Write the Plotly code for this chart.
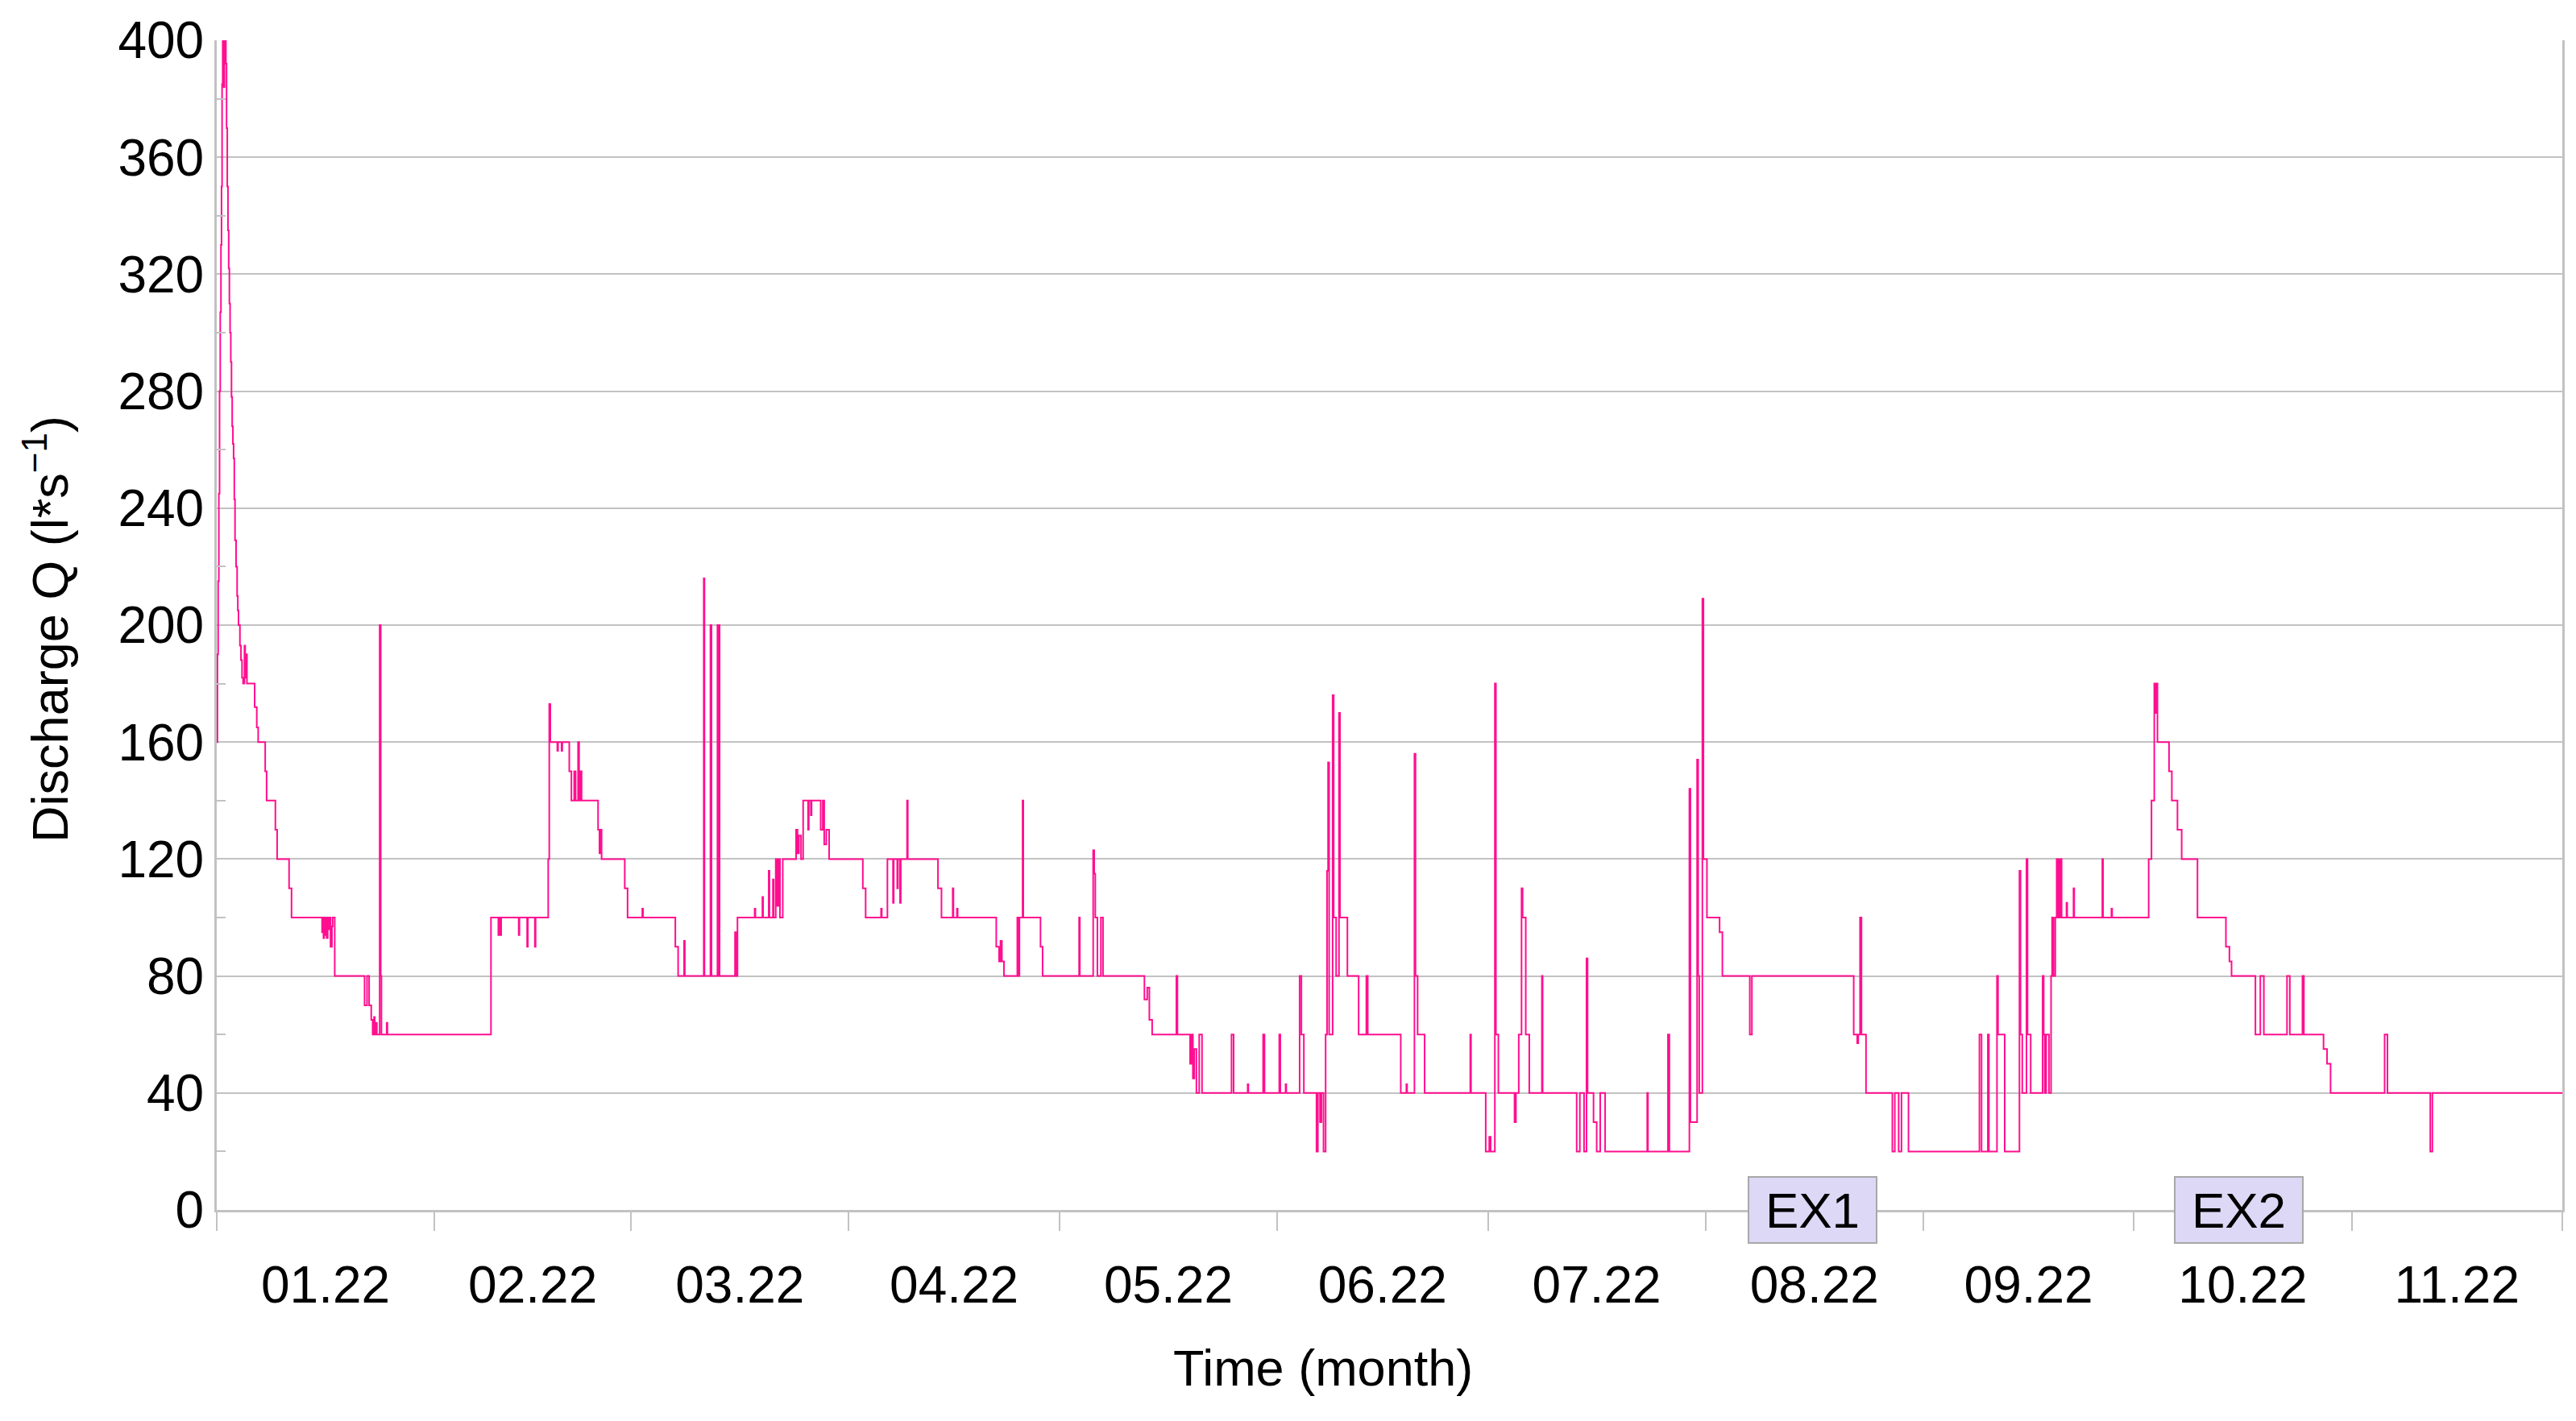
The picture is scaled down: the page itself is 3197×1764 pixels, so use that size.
import pandas as pd
import plotly.graph_objects as go

# discharge readings, (day since 2022-01-01, Q in l/s), value holds until next reading
jan = [(0.0, 160), (0.1, 190), (0.2, 215), (0.3, 245), (0.4, 280), (0.5, 307), (0.6, 330),
       (0.68, 350), (0.76, 385), (0.85, 400), (1.0, 384), (1.1, 400), (1.3, 392), (1.4, 370),
       (1.5, 350), (1.6, 335), (1.7, 322), (1.8, 310), (1.9, 300), (2.0, 290), (2.1, 278),
       (2.2, 268), (2.3, 262), (2.4, 257), (2.5, 243), (2.6, 229), (2.75, 220), (2.9, 210),
       (3.0, 205), (3.1, 200), (3.3, 193), (3.45, 188), (3.6, 182), (3.75, 180), (3.95, 193),
       (4.05, 182), (4.15, 190), (4.3, 180), (5.4, 172), (5.7, 165), (5.9, 160), (6.9, 150),
       (7.1, 140), (8.35, 130), (8.6, 120), (10.3, 110), (10.65, 100), (15.0, 95), (15.1, 100),
       (15.2, 93), (15.3, 100), (15.45, 94), (15.55, 100), (15.65, 93), (15.8, 100), (16.0, 96),
       (16.1, 100), (16.2, 90), (16.4, 97), (16.5, 100), (16.8, 80), (21.05, 70), (21.4, 80),
       (21.7, 70), (22.0, 65), (22.2, 60), (22.4, 66), (22.5, 60), (22.65, 64), (22.8, 60),
       (23.2, 200), (23.35, 80), (23.45, 60), (24.2, 64), (24.3, 60)]
feb = [(39.05, 100), (40.1, 94), (40.2, 100), (40.4, 94), (40.5, 100), (43.0, 94), (43.1, 100),
       (44.2, 90), (44.3, 100), (45.3, 90), (45.4, 100), (47.2, 120), (47.35, 173), (47.5, 160),
       (48.5, 157), (48.6, 160), (49.1, 157), (49.2, 160), (50.2, 150), (50.5, 140), (50.9, 150),
       (51.1, 140), (51.45, 160), (51.6, 140), (51.8, 150), (51.95, 140), (54.3, 130), (54.5, 122),
       (54.6, 130), (54.8, 120), (58.1, 110), (58.5, 100)]
mar = [(60.6, 103), (60.7, 100), (65.3, 90), (65.7, 80), (66.55, 92), (66.65, 80), (69.35, 216),
       (69.45, 80), (70.3, 200), (70.45, 80), (71.3, 200), (71.4, 80), (71.5, 200), (71.6, 80),
       (73.8, 95), (73.95, 80), (74.15, 100), (76.6, 103), (76.7, 100), (77.7, 107), (77.8, 100),
       (78.6, 116), (78.7, 100), (79.2, 113), (79.3, 100), (79.6, 120), (79.8, 104), (80.0, 120),
       (80.2, 100), (80.6, 120), (82.5, 130), (82.7, 122), (82.9, 128), (83.2, 120), (83.5, 140),
       (84.2, 130), (84.3, 140), (84.6, 135), (84.7, 140), (86.0, 130), (86.3, 140), (86.5, 125),
       (86.8, 130), (87.2, 120)]
apr = [(92.0, 110), (92.4, 100), (94.6, 103), (94.7, 100), (95.5, 120), (96.3, 105), (96.4, 120),
       (96.9, 110), (97.0, 120), (97.3, 105), (97.4, 120), (98.3, 140), (98.4, 120), (102.7, 110),
       (103.2, 100), (104.8, 110), (104.9, 100), (105.4, 103), (105.5, 100), (111.0, 90),
       (111.4, 85), (111.6, 92), (111.8, 85), (112.1, 80), (114.0, 100), (114.2, 80), (114.3, 100),
       (114.75, 140), (114.85, 100), (117.3, 90), (117.6, 80)]
may = [(122.8, 100), (122.9, 80), (124.8, 123), (124.95, 115), (125.1, 100), (125.4, 80),
       (125.9, 100), (126.2, 80), (132.1, 72), (132.5, 76), (132.8, 65), (133.2, 60), (136.65, 80),
       (136.8, 60), (138.6, 50), (138.8, 60), (139.0, 45), (139.2, 55), (139.5, 40), (139.9, 60),
       (140.3, 40), (144.5, 60), (144.8, 40), (146.8, 43), (146.9, 40), (149.0, 60), (149.2, 40)]
jun = [(151.3, 60), (151.45, 40), (152.2, 43), (152.3, 40), (154.2, 80), (154.45, 60), (154.8, 40),
       (156.6, 20), (156.8, 40), (157.1, 30), (157.3, 40), (157.6, 20), (157.9, 60), (158.1, 116),
       (158.25, 153), (158.4, 60), (158.9, 176), (159.05, 100), (159.4, 80), (159.8, 170),
       (159.95, 100), (161.0, 80), (162.6, 60), (163.7, 80), (163.9, 60), (168.6, 40), (169.4, 43),
       (169.5, 40), (170.55, 156), (170.7, 80), (171.0, 60), (172.0, 40), (178.5, 60), (178.6, 40),
       (180.7, 20)]
jul = [(181.2, 25), (181.4, 20), (182.0, 180), (182.15, 60), (182.5, 40), (184.8, 30), (185.0, 40),
       (185.4, 60), (185.8, 110), (185.95, 100), (186.4, 60), (186.9, 40), (188.7, 80), (188.8, 40),
       (193.65, 20), (194.1, 40), (194.7, 20), (195.05, 86), (195.2, 40), (196.05, 30), (196.5, 20),
       (197.0, 40), (197.7, 20), (203.7, 40), (203.8, 20), (206.65, 60), (206.85, 20), (209.7, 144),
       (209.85, 30), (210.8, 154), (210.95, 80), (211.1, 40), (211.55, 209), (211.7, 120),
       (212.2, 100)]
aug = [(214.0, 95), (214.4, 80), (218.3, 60), (218.6, 80), (233.1, 60), (233.6, 57), (233.75, 60),
       (234.0, 100), (234.2, 60), (234.85, 40), (238.6, 20), (238.95, 40), (239.5, 20), (239.9, 40),
       (240.9, 20)]
sep = [(251.0, 60), (251.3, 20), (252.2, 60), (252.35, 20), (253.5, 80), (253.65, 60), (254.6, 20),
       (256.7, 116), (256.85, 60), (257.1, 40), (257.7, 120), (257.85, 60), (258.3, 40), (260.0, 80),
       (260.15, 60), (260.3, 40), (260.5, 60), (260.9, 40), (261.2, 80), (261.35, 100), (261.55, 80),
       (261.8, 100), (262.0, 120), (262.1, 100), (262.3, 120), (262.4, 100), (262.6, 120),
       (262.7, 100), (263.4, 105), (263.5, 100), (264.4, 110), (264.5, 100), (268.5, 120),
       (268.6, 100), (269.8, 103), (269.9, 100)]
oct = [(275.1, 120), (275.5, 140), (275.9, 180), (276.0, 170), (276.15, 180), (276.35, 160),
       (278.0, 150), (278.4, 140), (279.2, 130), (279.8, 120), (282.05, 100), (286.1, 90),
       (286.6, 85), (286.9, 80), (290.3, 60), (291.0, 80), (291.5, 60), (294.8, 80), (295.2, 60),
       (297.0, 80), (297.2, 60), (300.0, 55), (300.5, 50), (301.0, 40)]
nov = [(308.7, 60), (309.1, 40), (315.2, 20), (315.5, 40), (334.0, 40)]

ex_labels = ["EX1", "EX2"]
ex_dates = ["2022-08-16 07:00", "2022-10-15 22:00"]

readings = jan + feb + mar + apr + may + jun + jul + aug + sep + oct + nov
days = [r[0] for r in readings]
q = [r[1] for r in readings]
t = pd.Timestamp("2022-01-01") + pd.to_timedelta(days, unit="D")

font = "Liberation Sans, Arial, sans-serif"
grey = "#c2c2c2"

fig = go.Figure()
fig.add_trace(
    go.Scatter(
        x=t,
        y=q,
        mode="lines",
        line=dict(color="#ff0f8f", width=2, shape="hv"),
        showlegend=False,
    )
)

for lab, d in zip(ex_labels, ex_dates):
    fig.add_annotation(
        x=d, y=0, xref="x", yref="y", text=lab, showarrow=False,
        font=dict(size=62, color="black", family=font),
        bgcolor="#dcd8f5", bordercolor="#a8a8a8", borderwidth=2, borderpad=0,
        width=157, height=80, yanchor="middle",
    )

fig.add_annotation(
    x=0.4717, y=-0.135, xref="paper", yref="paper", text="Time (month)",
    showarrow=False, xanchor="center", yanchor="middle",
    font=dict(size=63, color="black", family=font),
)
fig.add_annotation(
    x=-0.0725, y=0.4966, xref="paper", yref="paper",
    text="Discharge Q (l*s<sup>−1</sup>)", textangle=-90,
    showarrow=False, xanchor="center", yanchor="middle",
    font=dict(size=63, color="black", family=font),
)

fig.update_xaxes(
    type="date",
    range=["2022-01-01", "2022-12-01"],
    tick0="2022-01-01",
    dtick="M1",
    tickformat="%m.%y",
    ticklabelmode="period",
    ticks="outside", ticklen=23, tickwidth=2, tickcolor=grey,
    ticklabelstandoff=12,
    showline=True, linecolor=grey, linewidth=3,
    showgrid=False, zeroline=False,
    tickfont=dict(size=64, color="black", family=font),
)
fig.update_yaxes(
    range=[0, 400],
    dtick=40,
    ticks="",
    showgrid=True, gridcolor=grey, gridwidth=2,
    showline=True, linecolor=grey, linewidth=3, mirror=True,
    zeroline=False,
    minor=dict(dtick=20, ticks="inside", ticklen=11, tickwidth=2, tickcolor=grey, showgrid=False),
    tickfont=dict(size=64, color="black", family=font),
)

fig.update_layout(
    width=3197,
    height=1764,
    margin=dict(l=269, r=17, t=50, b=262),
    plot_bgcolor="white",
    paper_bgcolor="white",
    font=dict(family=font, color="black"),
)

fig.write_html(
    "out.html",
    config={"displayModeBar": False},
    post_script="document.body.style.margin='0';",
)
